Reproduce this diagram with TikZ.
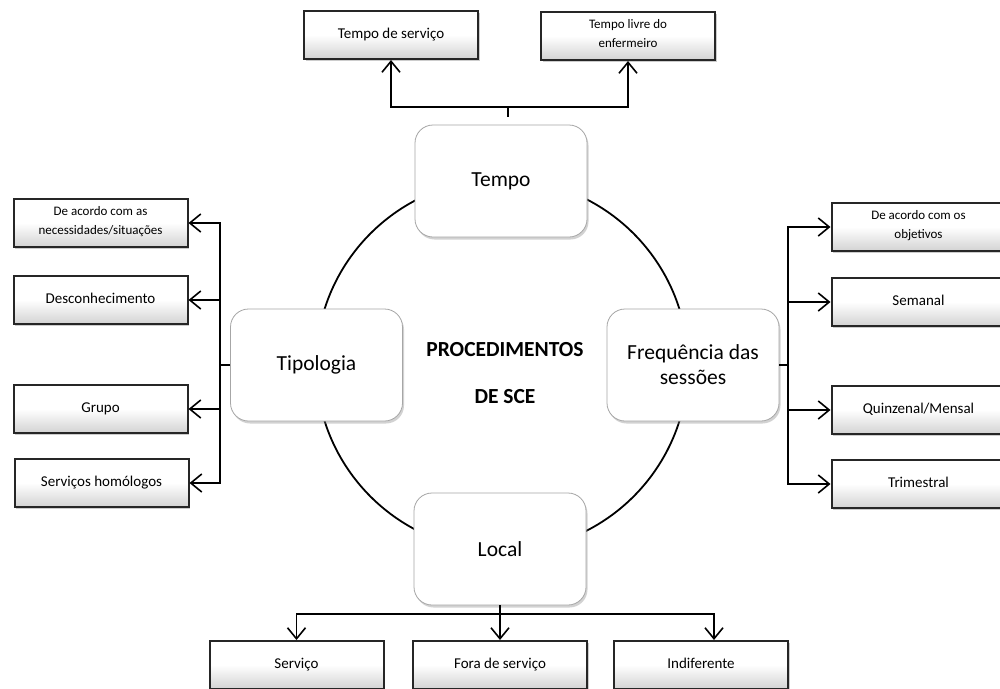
\documentclass[tikz,border=0pt]{standalone}
\usepackage{fontspec}
\setmainfont{Carlito}
\usetikzlibrary{arrows.meta,shadows,calc}

\begin{document}
\begin{tikzpicture}[x=1pt,y=-1pt,
  hub/.style={draw=gray!70, line width=0.8pt, fill=white, rounded corners=18pt,
    minimum width=172pt, minimum height=112pt, inner sep=0pt, align=center,
    font=\fontsize{21.5}{25}\selectfont,
    drop shadow={shadow xshift=1.5pt, shadow yshift=-2.5pt, opacity=0.35}},
  leaf/.style={draw=black!85, line width=2pt, top color=white, bottom color=gray!35,
    middle color=white, minimum width=174pt, minimum height=48pt, inner sep=0pt,
    align=center, font=\fontsize{15}{18}\selectfont,
    execute at begin node={\strut},
    drop shadow={shadow xshift=1.5pt, shadow yshift=-2pt, opacity=0.4}},
  leaftwo/.style={leaf, font=\fontsize{13}{19}\selectfont},
  link/.style={line width=1.8pt, black},
  arr/.style={link, -{Straight Barb[length=11pt,width=18pt,line width=1.6pt]}},
]
\useasboundingbox (0,0) rectangle (1000,688);
\fill[white] (0,0) rectangle (1000,688);
\clip (0,0) rectangle (1000,688);

% ring joining the four aspects
\draw[link] (502,365) circle[radius=186pt];

% central aspects
\node[hub] (tempo) at (501,181) {Tempo};
\node[hub] (tipo)  at (316.5,365) {Tipologia};
\node[hub] (freq)  at (693,365) {Frequência das\\sessões};
\node[hub] (local) at (500,549) {Local};

\node[font=\bfseries\fontsize{21.5}{47}\selectfont, align=center] (title) at (505,373)
  {PROCEDIMENTOS\\DE SCE};

% Tempo
\node[leaf]    (tserv)  at (391,35) {Tempo de serviço};
\node[leaftwo] (tlivre) at (628,36) {Tempo livre do\\enfermeiro};

% Tipologia
\node[leaftwo] (l1) at (100.5,223) {De acordo com as\\necessidades/situações};
\node[leaf]    (l2) at (100.5,300) {Desconhecimento};
\node[leaf]    (l3) at (100.5,409) {Grupo};
\node[leaf]    (l4) at (101.5,483) {Serviços homólogos};

% Frequência das sessões
\node[leaftwo] (r1) at (918.5,227) {De acordo com os\\objetivos};
\node[leaf]    (r2) at (918.5,302) {Semanal};
\node[leaf]    (r3) at (918.5,410) {Quinzenal/Mensal};
\node[leaf]    (r4) at (918.5,484) {Trimestral};

% Local
\node[leaf] (serv)  at (296.5,665) {Serviço};
\node[leaf] (fora)  at (500,665) {Fora de serviço};
\node[leaf] (indif) at (701,665) {Indiferente};

% connectors: Tempo
\coordinate (tbus) at (508,107);
\draw[arr] (tbus) -| (tserv.south);
\draw[arr] (tbus) -| (tlivre.south);
\draw[link] (tbus) -- ++(0,10);

% connectors: Tipologia
\coordinate (lbus) at (220,365);
\draw[link] (tipo.west) -- (lbus);
\draw[arr] (lbus) |- (l1.east);
\draw[arr] (lbus) |- (l2.east);
\draw[arr] (lbus) |- (l3.east);
\draw[arr] (lbus) |- (l4.east);

% connectors: Frequência
\coordinate (rbus) at (788,365);
\draw[link] (freq.east) -- (rbus);
\draw[arr] (rbus) |- (r1.west);
\draw[arr] (rbus) |- (r2.west);
\draw[arr] (rbus) |- (r3.west);
\draw[arr] (rbus) |- (r4.west);

% connectors: Local
\coordinate (bbus) at (500,614);
\draw[arr] (local.south) -- (fora.north);
\draw[arr] (bbus) -| (serv.north);
\draw[arr] (bbus) -| ($(indif.north)+(13,0)$);
\end{tikzpicture}
\end{document}
